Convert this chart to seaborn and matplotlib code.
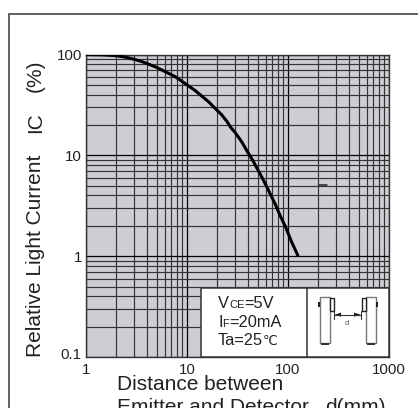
import numpy as np
import pandas as pd
import matplotlib
matplotlib.use('Agg')
import matplotlib.pyplot as plt
from matplotlib.patches import Rectangle, Polygon
from matplotlib.transforms import ScaledTranslation
import seaborn as sns

# curve
distance = [1, 1.5, 2, 2.5, 3, 3.5, 4, 5, 6, 7.7, 10, 12, 14, 16.5, 19, 22, 25, 27, 30,
            35, 40, 45, 50, 55, 60, 67, 75, 84, 95, 108, 125]
light_current = [100, 99.2, 97.2, 93.8, 89.6, 85.7, 81.5, 74.5, 68, 60, 50, 44, 38.7, 33.7, 29.2,
                 25.3, 21.5, 19, 16.8, 13.5, 10.7, 8.85, 7.26, 6.1, 5.14, 4.1, 3.25, 2.5, 1.93, 1.4, 1.02]

# stray dash in the scan
dash_x = [203, 243]
dash_y = [5.1, 5.1]

x_ticks = [1, 10, 100, 1000]
x_tick_labels = ['1', '10', '100', '1000']
y_ticks = [0.1, 1, 10, 100]
y_tick_labels = ['0.1', '1', '10', '100']

sns.set_style('white')
plt.rcParams['font.family'] = ['Liberation Sans', 'DejaVu Sans']

W, H = 418, 408
fig = plt.figure(figsize=(W / 100, H / 100), dpi=100, facecolor='white')
ax = fig.add_axes([86 / W, 1 - 357 / H, 303 / W, 302.5 / H])
ax.set_facecolor('#cdced4')

ax.set_xscale('log')
ax.set_yscale('log')
ax.set_xlim(1, 1000)
ax.set_ylim(0.1, 100)

minor = np.arange(2, 10)
ax.set_xticks(x_ticks, x_tick_labels)
ax.set_yticks(y_ticks, y_tick_labels)
ax.set_xticks(np.outer([1, 10, 100], minor).ravel(), minor=True, labels=[])
ax.set_yticks(np.outer([0.1, 1, 10], minor).ravel(), minor=True, labels=[])
ax.grid(which='major', color='#000000', lw=0.9)
ax.grid(which='minor', color='#333333', lw=0.85)
ax.set_axisbelow(True)
ax.tick_params(which='both', length=0)
ax.tick_params(axis='both', which='major', labelsize=10.8, labelcolor='#222222')
ax.tick_params(axis='x', pad=4)
ax.tick_params(axis='y', pad=3)

# the 0.1 label sits a little above the axis corner
low = ax.get_yticklabels()[0]
low.set_transform(low.get_transform() + ScaledTranslation(0, 3.5 / 72 * 0.72, fig.dpi_scale_trans))

for s in ax.spines.values():
    s.set_color('#333333')
    s.set_linewidth(1.0)

df = pd.DataFrame({'d': distance, 'ic': light_current})
sns.lineplot(data=df, x='d', y='ic', ax=ax, color='black', lw=2.2, zorder=3)
ax.plot(dash_x, dash_y, color='#222222', lw=1.1)
ax.set_xlabel('')
ax.set_ylabel('')

# page overlay in pixel units: frame, labels, condition box, sensor sketch
ov = fig.add_axes([0, 0, 1, 1], zorder=5)
ov.set_xlim(0, W)
ov.set_ylim(H, 0)
ov.axis('off')

ov.plot([9, 9, W], [H, 14, 14], color='#555555', lw=1.3, solid_joinstyle='miter')

txt = dict(color='#222222', fontsize=15, va='baseline', rotation_mode='anchor')
ov.text(41, 357, 'Relative Light Current', rotation=90, ha='left', **txt)
ov.text(41, 133, 'IC', rotation=90, ha='left', **txt)
ov.text(41, 92, '(%)', rotation=90, ha='left', **txt)
ov.text(117, 390, 'Distance between', ha='left', **txt)
ov.text(117, 413, 'Emitter and Detector', ha='left', **txt)
ov.text(325, 413, 'd(mm)', ha='left', **txt)

ov.add_patch(Rectangle((200.7, 287.5), 188.3, 69.5, fc='white', ec='#333333', lw=1.1))
ov.plot([307, 307], [287.5, 357], color='#333333', lw=1.1)

renderer = fig.canvas.get_renderer()


def cond(x, y, parts):
    # runs of big and small letters on one baseline
    for s, size in parts:
        t = ov.text(x, y, s, fontsize=size, color='#222222', va='baseline', ha='left')
        x += t.get_window_extent(renderer).width


cond(218, 307.7, [('V', 11.8), ('CE', 8), ('=5V', 11.8)])
cond(218, 326.7, [('I', 11.8), ('F', 8), ('=20mA', 11.8)])
cond(218, 345, [('Ta=25', 11.8), ('℃', 9.5)])

# sensor sketch, left and right housings are mirror images
grey = '#777777'
for body, head, nub, foot in [
    ((320, 297), (329.5, 298), (318, 302), (321, 343)),
    ((366, 297), (361.5, 298), (376, 302), (367, 343)),
]:
    ov.add_patch(Rectangle(body, 10, 46, fc='white', ec=grey, lw=1.0))
    ov.add_patch(Rectangle(head, 4.5, 13, fc='white', ec='#222222', lw=1.0))
    ov.add_patch(Rectangle(nub, 2.2, 5, fc='#222222', ec='none'))
    ov.add_patch(Rectangle(foot, 8, 2, fc='#333333', ec='none'))

ov.plot([334.3, 361], [314.7, 314.7], color='#333333', lw=0.8)
ov.plot([334.3, 334.3], [311, 319], color='#333333', lw=0.8)
ov.plot([361, 361], [311, 319], color='#333333', lw=0.8)
ov.add_patch(Polygon([(334.8, 314.7), (341, 312.7), (341, 316.7)], fc='#111111', ec='none'))
ov.add_patch(Polygon([(360.5, 314.7), (354, 312.7), (354, 316.7)], fc='#111111', ec='none'))
ov.text(347, 323.5, 'd', fontsize=5.5, color='#555555', ha='center', va='center')

fig.savefig('out.png', dpi=100)
